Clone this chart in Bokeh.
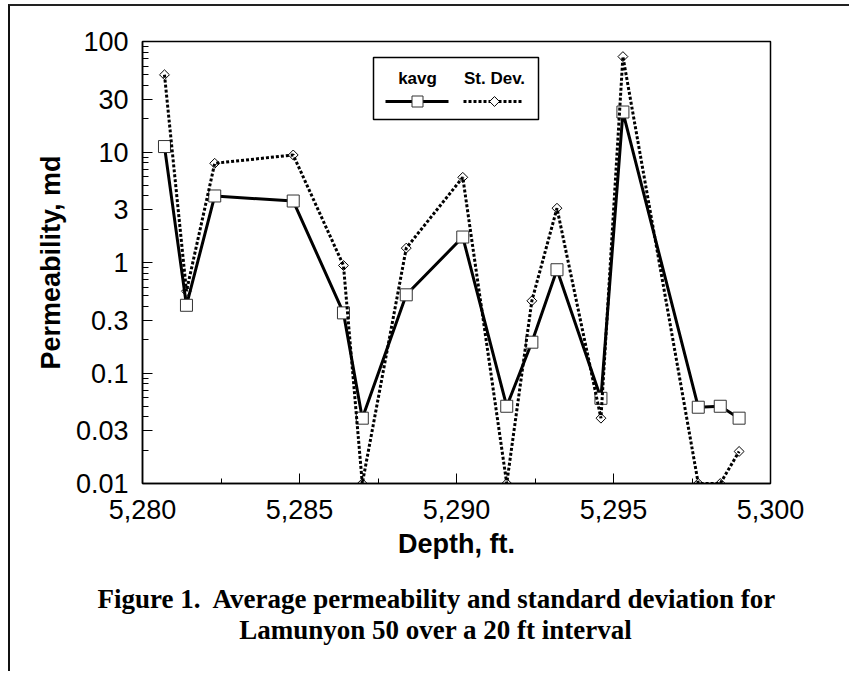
import math
from bokeh.plotting import figure
from bokeh.models import Range1d, FixedTicker, BoxAnnotation, Label, Title
from bokeh.embed import file_html
from bokeh.resources import INLINE

# ---- data ----
depth = [5280.7, 5281.4, 5282.3, 5284.8, 5286.4, 5287.0, 5288.4, 5290.2,
         5291.6, 5292.4, 5293.2, 5294.6, 5295.3, 5297.7, 5298.4, 5299.0]
kavg = [11.2, 0.41, 4.0, 3.6, 0.35, 0.039, 0.51, 1.7,
        0.05, 0.19, 0.86, 0.059, 23.0, 0.049, 0.05, 0.039]
stdev = [50.0, 0.55, 7.9, 9.4, 0.94, 0.01, 1.35, 5.9,
         0.01, 0.45, 3.1, 0.039, 73.0, 0.01, 0.01, 0.0195]

x_ticks = [5280, 5285, 5290, 5295, 5300]
x_tick_labels = ["5,280", "5,285", "5,290", "5,295", "5,300"]
x_minor = [5282.5, 5287.5, 5292.5, 5297.5]
y_ticks = [0.01, 0.03, 0.1, 0.3, 1, 3, 10, 30, 100]
y_tick_labels = ["0.01", "0.03", "0.1", "0.3", "1", "3", "10", "30", "100"]
y_minor = [float(f"{m}e{e}") for e in range(-2, 2) for m in (2, 4, 5, 6, 7, 8, 9)]

series_names = ["kavg", "St. Dev."]
x_title = "Depth, ft."
y_title = "Permeability, md"
caption = ["Figure 1.\u00a0 Average permeability and standard deviation for",
           "Lamunyon 50 over a 20 ft interval"]

# ---- layout (canvas pixels) ----
W, H = 841, 667
FL, FR, FT, FB = 132, 760, 35, 477
X0, X1 = 5280, 5300
Y0, Y1 = 0.01, 100

def dx(px):
    return X0 + (px - FL) * (X1 - X0) / (FR - FL)

def dy(py):
    lo, hi = math.log10(Y0), math.log10(Y1)
    return 10 ** (hi - (py - FT) * (hi - lo) / (FB - FT))

p = figure(width=W, height=H, title=None,
           x_range=Range1d(X0, X1), y_range=Range1d(Y0, Y1),
           y_axis_type="log", output_backend="svg", toolbar_location=None,
           min_border_left=FL, min_border_right=W - FR,
           min_border_top=FT, min_border_bottom=H - FB)
p.styles = {"margin-left": "8px", "margin-top": "4px",
            "border-top": "2px solid #222", "border-left": "2px solid #111"}
p.background_fill_color = "white"
p.border_fill_color = "white"
p.outline_line_color = "black"
p.outline_line_width = 1.5
p.xgrid.visible = False
p.ygrid.visible = False

xa = p.xaxis[0]
ya = p.yaxis[0]
xa.ticker = FixedTicker(ticks=x_ticks, minor_ticks=x_minor)
ya.ticker = FixedTicker(ticks=y_ticks, minor_ticks=y_minor)
xa.major_label_overrides = dict(zip(x_ticks, x_tick_labels))
ya.major_label_overrides = dict(zip(y_ticks, y_tick_labels))
xa.axis_label = x_title
ya.axis_label = y_title
for ax in (xa, ya):
    ax.axis_line_color = "black"
    ax.axis_line_width = 1.5
    ax.major_tick_line_color = "black"
    ax.minor_tick_line_color = "black"
    ax.major_tick_in = 10
    ax.major_tick_out = 0
    ax.minor_tick_in = 6
    ax.minor_tick_out = 0
    ax.major_label_text_font = "Liberation Sans"
    ax.major_label_text_font_size = "27px"
    ax.major_label_text_color = "black"
    ax.axis_label_text_font = "Liberation Sans"
    ax.axis_label_text_font_size = "27px"
    ax.axis_label_text_font_style = "bold"
    ax.axis_label_text_color = "black"
xa.minor_tick_in = 5
xa.major_label_standoff = 16
xa.axis_label_standoff = 7
ya.major_label_standoff = 14
ya.axis_label_standoff = 7

# ---- data marks ----
p.line(depth, kavg, line_color="black", line_width=3)
p.scatter(depth, kavg, marker="square", size=12, fill_color="white",
          line_color="#333333", line_width=1)
p.line(depth, stdev, line_color="black", line_width=3, line_dash="3 2")
p.scatter(depth, stdev, marker="square", size=7, angle=math.pi / 4,
          fill_color=None, line_color="black", line_width=1)

# ---- custom legend ----
p.add_layout(BoxAnnotation(left=dx(363), right=dx(528), top=dy(51), bottom=dy(113),
                           fill_alpha=0, line_color="black", line_width=1.5,
                           line_alpha=1))
ly = dy(95)
p.line([dx(375), dx(438)], [ly, ly], line_color="black", line_width=3)
p.scatter([dx(407)], [ly], marker="square", size=11, fill_color="white",
          line_color="#333333", line_width=1)
p.line([dx(453), dx(513)], [ly, ly], line_color="black", line_width=3, line_dash="3 2")
p.scatter([dx(484)], [ly], marker="square", size=7, angle=math.pi / 4,
          fill_color="white", line_color="black", line_width=1)
for cx, name in zip([407, 484], series_names):
    p.add_layout(Label(x=dx(cx), y=dy(72), text=name, text_align="center",
                       text_baseline="middle", text_font="Liberation Sans",
                       text_font_size="17px", text_font_style="bold",
                       text_color="black"))

# ---- caption (two-line title below the x axis; second line centred with
#      non-breaking-space padding because multi-line titles align left) ----
pad = "\u00a0" * 21
p.add_layout(Title(text=caption[0] + "\n" + pad + caption[1], align="left",
                   offset=-45, standoff=41, text_font="Liberation Serif",
                   text_font_size="27px", text_font_style="bold",
                   text_color="black", text_line_height=1.04), "below")

open("out.html", "w").write(file_html(p, INLINE))
